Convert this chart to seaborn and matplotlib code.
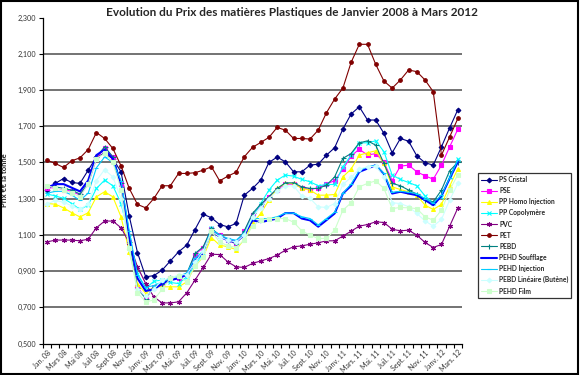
import numpy as np
import pandas as pd
import matplotlib
matplotlib.use("Agg")
import matplotlib.pyplot as plt
import seaborn as sns
from matplotlib.patches import Rectangle
from matplotlib.font_manager import FontProperties

# monthly prices, thousands of euros per tonne, Jan 2008 -> Mar 2012
ps_cristal = [1.347, 1.384, 1.411, 1.389, 1.384, 1.457, 1.53, 1.55, 1.52, 1.448,
              1.203, 1.002, 0.868, 0.875, 0.905, 0.956, 1.006, 1.043, 1.129, 1.214,
              1.194, 1.157, 1.144, 1.163, 1.319, 1.356, 1.402, 1.500, 1.529, 1.503,
              1.448, 1.448, 1.485, 1.490, 1.540, 1.581, 1.684, 1.767, 1.807, 1.734,
              1.734, 1.660, 1.553, 1.632, 1.617, 1.536, 1.498, 1.485, 1.586, 1.691, 1.792]
pse = [1.36, 1.36, 1.35, 1.34, 1.32, 1.38, 1.52, 1.58, 1.53, 1.38,
       1.06, 0.81, 0.75, 0.81, 0.83, 0.86, 0.86, 0.88, 0.99, 1.03,
       1.13, 1.10, 1.07, 1.05, 1.12, 1.21, 1.26, 1.31, 1.35, 1.38,
       1.38, 1.36, 1.35, 1.36, 1.38, 1.40, 1.461, 1.535, 1.573, 1.540,
       1.549, 1.501, 1.400, 1.479, 1.485, 1.448, 1.426, 1.407, 1.485, 1.586, 1.684]
pp_homo = [1.273, 1.269, 1.249, 1.222, 1.199, 1.222, 1.310, 1.338, 1.310, 1.199,
           1.006, 0.831, 0.776, 0.813, 0.813, 0.813, 0.813, 0.840, 0.927, 0.978,
           1.085, 1.043, 1.034, 1.019, 1.074, 1.163, 1.218, 1.292, 1.356, 1.384,
           1.384, 1.356, 1.347, 1.319, 1.319, 1.323, 1.420, 1.463, 1.540, 1.553,
           1.564, 1.494, 1.365, 1.350, 1.338, 1.319, 1.264, 1.240, 1.268, 1.369, 1.466]
pp_copo = [1.325, 1.315, 1.301, 1.273, 1.240, 1.264, 1.356, 1.402, 1.371, 1.273,
           1.090, 0.886, 0.804, 0.844, 0.850, 0.837, 0.831, 0.868, 0.932, 0.997,
           1.135, 1.093, 1.071, 1.061, 1.111, 1.199, 1.273, 1.347, 1.402, 1.430,
           1.424, 1.406, 1.393, 1.371, 1.378, 1.378, 1.476, 1.540, 1.608, 1.608,
           1.619, 1.559, 1.430, 1.406, 1.389, 1.371, 1.315, 1.277, 1.310, 1.420, 1.518]
pvc = [1.061, 1.071, 1.071, 1.071, 1.067, 1.076, 1.139, 1.176, 1.176, 1.139,
       1.056, 0.923, 0.831, 0.757, 0.724, 0.724, 0.730, 0.780, 0.850, 0.920,
       0.993, 0.991, 0.951, 0.923, 0.920, 0.942, 0.956, 0.969, 0.988, 1.015,
       1.034, 1.039, 1.048, 1.056, 1.067, 1.067, 1.093, 1.120, 1.148, 1.157,
       1.172, 1.168, 1.131, 1.122, 1.126, 1.098, 1.058, 1.030, 1.047, 1.148, 1.249]
pet = [1.512, 1.494, 1.472, 1.509, 1.525, 1.571, 1.665, 1.632, 1.577, 1.481,
       1.356, 1.268, 1.249, 1.301, 1.371, 1.371, 1.439, 1.439, 1.443, 1.457,
       1.476, 1.398, 1.424, 1.446, 1.531, 1.583, 1.610, 1.638, 1.693, 1.678,
       1.632, 1.632, 1.629, 1.678, 1.774, 1.850, 1.910, 2.052, 2.152, 2.152,
       2.041, 1.949, 1.910, 1.955, 2.010, 2.001, 1.955, 1.890, 1.540, 1.641, 1.743]
pebd = [1.371, 1.365, 1.356, 1.347, 1.325, 1.384, 1.531, 1.586, 1.531, 1.384,
        1.061, 0.804, 0.748, 0.813, 0.831, 0.868, 0.859, 0.886, 0.997, 1.034,
        1.135, 1.098, 1.071, 1.052, 1.122, 1.218, 1.269, 1.310, 1.356, 1.387,
        1.387, 1.365, 1.356, 1.356, 1.374, 1.420, 1.522, 1.549, 1.608, 1.619,
        1.595, 1.494, 1.384, 1.371, 1.347, 1.325, 1.292, 1.282, 1.347, 1.454, 1.500]
pehd_souff = [1.36, 1.38, 1.38, 1.36, 1.34, 1.40, 1.54, 1.57, 1.52, 1.38,
              1.09, 0.86, 0.79, 0.80, 0.83, 0.85, 0.86, 0.88, 0.96, 1.00,
              1.12, 1.09, 1.07, 1.06, 1.10, 1.18, 1.17, 1.18, 1.19, 1.22,
              1.22, 1.19, 1.18, 1.145, 1.181, 1.218, 1.328, 1.371, 1.448, 1.466,
              1.485, 1.435, 1.328, 1.338, 1.328, 1.319, 1.292, 1.264, 1.315, 1.411, 1.503]
pehd_inj = [1.33, 1.34, 1.34, 1.32, 1.29, 1.33, 1.47, 1.53, 1.50, 1.40,
            1.12, 0.88, 0.81, 0.82, 0.84, 0.86, 0.87, 0.89, 0.97, 1.01,
            1.13, 1.10, 1.08, 1.07, 1.11, 1.19, 1.19, 1.19, 1.20, 1.22,
            1.22, 1.20, 1.19, 1.155, 1.19, 1.225, 1.33, 1.38, 1.455, 1.475,
            1.485, 1.44, 1.335, 1.34, 1.335, 1.328, 1.30, 1.275, 1.32, 1.415, 1.512]
pebd_lin = [1.27, 1.29, 1.28, 1.26, 1.24, 1.27, 1.40, 1.46, 1.42, 1.30,
            1.02, 0.80, 0.76, 0.80, 0.85, 0.86, 0.88, 0.88, 0.95, 1.01,
            1.12, 1.09, 1.07, 1.06, 1.10, 1.20, 1.25, 1.30, 1.34, 1.37,
            1.37, 1.315, 1.301, 1.255, 1.251, 1.273, 1.378, 1.417, 1.463, 1.476,
            1.479, 1.420, 1.277, 1.273, 1.255, 1.218, 1.177, 1.148, 1.185, 1.292, 1.384]
pehd_film = [1.37, 1.36, 1.35, 1.33, 1.31, 1.38, 1.52, 1.55, 1.50, 1.35,
             1.03, 0.78, 0.73, 0.74, 0.80, 0.86, 0.87, 0.84, 0.93, 0.98,
             1.12, 1.06, 1.04, 1.03, 1.07, 1.15, 1.18, 1.19, 1.19, 1.19,
             1.17, 1.122, 1.098, 1.080, 1.080, 1.126, 1.236, 1.277, 1.365, 1.384,
             1.398, 1.356, 1.245, 1.251, 1.249, 1.245, 1.199, 1.181, 1.236, 1.347, 1.433]

month_labels = ["Jan. 08", "Mars 08", "Mai 08", "Juil 08", "Sept 08", "Nov 08",
                "Janv. 09", "Mars. 09", "Mai. 09", "Juil. 09", "Sept. 09", "Nov. 09",
                "Janv. 10", "Mars. 10", "Mai. 10", "Juil. 10", "Sept. 10", "Nov. 10",
                "Janv. 11", "Mars. 11", "Mai. 11", "Juil. 11", "Sept. 11", "Nov. 11",
                "Janv. 12", "Mars. 12"]
y_ticks = [0.5, 0.7, 0.9, 1.1, 1.3, 1.5, 1.7, 1.9, 2.1, 2.3]

# name, values, colour, marker, markersize, linewidth
series = [
    ("PS Cristal", ps_cristal, "#000080", "D", 2.4, 0.8),
    ("PSE", pse, "#FF00FF", "s", 2.5, 0.8),
    ("PP Homo Injection", pp_homo, "#FFFF00", "^", 2.8, 0.8),
    ("PP Copolymère", pp_copo, "#00FFFF", "x", 2.8, 0.8),
    ("PVC", pvc, "#800080", (6, 2, 0), 3.6, 0.8),
    ("PET", pet, "#800000", "o", 2.6, 0.8),
    ("PEBD", pebd, "#008080", "+", 3.6, 0.8),
    ("PEHD Soufflage", pehd_souff, "#0000FF", None, 0, 1.5),
    ("PEHD Injection", pehd_inj, "#00CCFF", "_", 3.2, 0.8),
    ("PEBD Linéaire (Butène)", pebd_lin, "#CCFFFF", "D", 2.4, 0.8),
    ("PEHD Film", pehd_film, "#CCFFCC", "s", 2.5, 0.8),
]

sns.set_style("white")
plt.rcParams["font.family"] = ["Lato", "DejaVu Sans"]

fig = plt.figure(figsize=(5.8, 3.75), dpi=100)
ax = fig.add_axes([43 / 580, 1 - 343.5 / 375, (462 - 43) / 580, (343.5 - 17.5) / 375])

months = np.arange(len(ps_cristal))
for name, vals, col, mk, ms, lw in series:
    df = pd.DataFrame({"mois": months, "prix": vals})
    sns.lineplot(data=df, x="mois", y="prix", ax=ax, color=col, linewidth=lw,
                 marker=mk, markersize=ms, markeredgecolor=col, markerfacecolor=col,
                 markeredgewidth=0.8, label=name)

# horizontal grid lines (not at the axis bottom or top)
for yv in y_ticks[1:-1]:
    ax.axhline(yv, color="#4d4d4d", linewidth=1.1, zorder=0)

ax.set_xlim(-0.5, len(months) - 0.5)
ax.set_ylim(0.5, 2.3)
ax.set_yticks(y_ticks)
ax.set_yticklabels([f"{v:.3f}".replace(".", ",") for v in y_ticks],
                   fontsize=5.2, color="#333333")
ax.tick_params(axis="y", length=3, width=0.8, color="black", direction="out", pad=2, left=True)

ax.set_xticks(months[::2])
ax.set_xticklabels(month_labels, rotation=45, ha="right", rotation_mode="anchor",
                   fontsize=5.0, color="#333333")
ax.set_xticks(np.arange(len(months) + 1) - 0.5, minor=True)
ax.tick_params(axis="x", which="major", length=0, pad=4)
ax.tick_params(axis="x", which="minor", length=3, width=0.8, color="black",
               direction="out", bottom=True)

ax.set_xlabel("")
ax.set_ylabel("Prix €€ la tonne", fontsize=5.5, fontweight="bold", labelpad=7)
sns.despine(ax=ax)
ax.spines["left"].set_color("black")
ax.spines["bottom"].set_color("black")
ax.spines["left"].set_linewidth(0.9)
ax.spines["bottom"].set_linewidth(0.9)

fig.text(292 / 580, 1 - 13 / 375, "Evolution du Prix des matières Plastiques de Janvier 2008 à Mars 2012",
         ha="center", va="center", fontsize=8.5, fontweight="bold")

leg_font = FontProperties(family=["Liberation Sans Narrow", "Lato", "DejaVu Sans"],
                          weight="bold", size=4.8)
leg = ax.legend(loc="upper left", bbox_to_anchor=(478 / 580, 1 - 173 / 375),
                bbox_transform=fig.transFigure, frameon=True, fancybox=False,
                prop=leg_font, handlelength=2.4, labelspacing=0.62,
                borderpad=0.45, handletextpad=0.3, borderaxespad=0)
leg.get_frame().set_edgecolor("black")
leg.get_frame().set_linewidth(0.9)

# outer chart border
fig.patches.append(Rectangle((0.002, 0.003), 0.995, 0.994, transform=fig.transFigure,
                             fill=False, edgecolor="black", linewidth=1.5))

fig.savefig("out.png", dpi=100)
